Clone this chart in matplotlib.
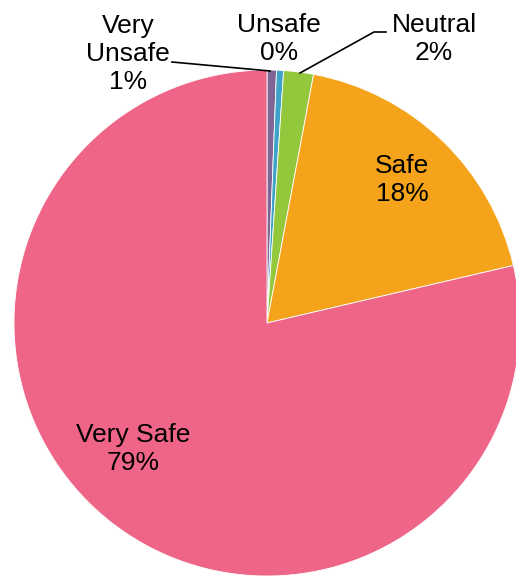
import matplotlib.pyplot as plt

# share of answers per category
labels = ['Very Unsafe', 'Unsafe', 'Neutral', 'Safe', 'Very Safe']
shares = [0.6, 0.45, 1.9, 18.4, 78.65]
shown = ['1%', '0%', '2%', '18%', '79%']
colors = ['#7E6595', '#3FA3C9', '#93C83C', '#F5A31B', '#EF6587']

plt.rcParams['font.family'] = ['Liberation Sans', 'DejaVu Sans']

W, H = 516, 576
cx, cy, r = 267, 323, 253

def px(x, y):
    # pixel position -> data coords (pie radius = 1)
    return (x - cx) / r, (cy - y) / r

fig = plt.figure(figsize=(W / 100, H / 100), dpi=100)
ax = fig.add_axes([0, 0, 1, 1])
ax.pie(shares, colors=colors, startangle=90, counterclock=False,
       wedgeprops=dict(edgecolor='white', linewidth=0.6))
ax.set_xlim(-cx / r, (W - cx) / r)
ax.set_ylim(-(H - cy) / r, cy / r)
ax.set_aspect('auto')
ax.axis('off')

pos = [(128, 54), (279, 39), (434, 39), (402, 180), (133, 449)]
names = ['Very\nUnsafe', 'Unsafe', 'Neutral', 'Safe', 'Very Safe']
for n, s, p in zip(names, shown, pos):
    x, y = px(*p)
    ax.text(x, y, n + '\n' + s, ha='center', va='center', fontsize=19,
            linespacing=1.2)

# leader lines
x1, y1 = px(172, 62)
x2, y2 = px(270, 71)
ax.plot([x1, x2], [y1, y2], color='black', lw=1.2)
a = px(300, 73)
b = px(374, 32)
c = px(386, 32)
ax.plot([a[0], b[0], c[0]], [a[1], b[1], c[1]], color='black', lw=1.2)

fig.savefig('out.png', dpi=100)
